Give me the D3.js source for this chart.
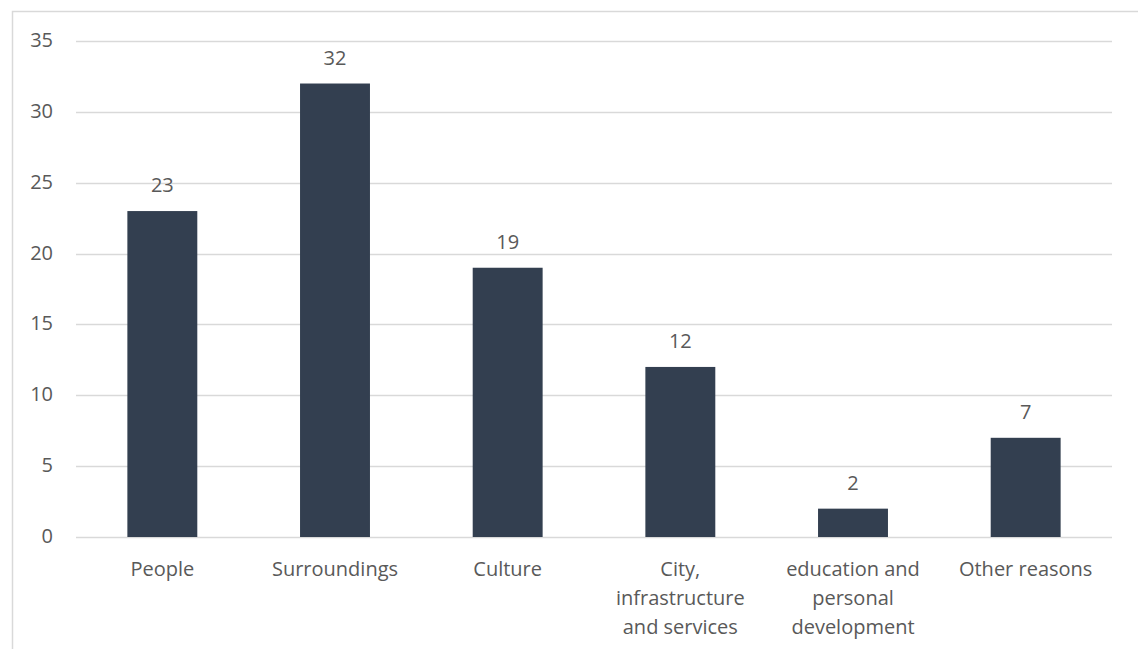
<!DOCTYPE html>
<html>
<head>
<meta charset="utf-8">
<script src="https://cdn.jsdelivr.net/npm/d3@7"></script>
<style>
  body { margin: 0; background: #fff; }
  text { font-family: "Open Sans", sans-serif; fill: #595959; }
</style>
</head>
<body>
<div id="chart"></div>
<script>
var width = 1138, height = 649;

var categories = ["People", "Surroundings", "Culture", "City, infrastructure and services", "education and personal development", "Other reasons"];
var catLines = [["People"], ["Surroundings"], ["Culture"], ["City,", "infrastructure", "and services"], ["education and", "personal", "development"], ["Other reasons"]];
var values = [23, 32, 19, 12, 2, 7];
var yTicks = [0, 5, 10, 15, 20, 25, 30, 35];

var margin = {left: 76, right: 26, top: 41, bottom: 112};

var svg = d3.select("#chart")
  .append("svg")
  .attr("width", width)
  .attr("height", height);

// chart frame
svg.append("rect")
  .attr("x", 12.5).attr("y", 11.5)
  .attr("width", 1140).attr("height", 660)
  .attr("fill", "none")
  .attr("stroke", "#d9d9d9")
  .attr("stroke-width", 1.5);

var x = d3.scaleBand()
  .domain(categories)
  .range([margin.left, width - margin.right])
  .paddingInner(0.595)
  .paddingOuter(0.2975);

var y = d3.scaleLinear()
  .domain([0, 35])
  .range([height - margin.bottom, margin.top]);

svg.selectAll(".grid")
  .data(yTicks)
  .enter().append("line")
  .attr("class", "grid")
  .attr("x1", margin.left).attr("x2", width - margin.right)
  .attr("y1", function(d) { return Math.round(y(d)) + 0.5; })
  .attr("y2", function(d) { return Math.round(y(d)) + 0.5; })
  .attr("stroke", "#d9d9d9")
  .attr("stroke-width", 1.3);

svg.selectAll(".ytick")
  .data(yTicks)
  .enter().append("text")
  .attr("class", "ytick")
  .attr("x", 53)
  .attr("y", function(d) { return y(d) + 6; })
  .attr("text-anchor", "end")
  .style("font-size", "20px")
  .text(function(d) { return d; });

svg.selectAll(".bar")
  .data(values)
  .enter().append("rect")
  .attr("class", "bar")
  .attr("x", function(d, i) { return x(categories[i]); })
  .attr("y", function(d) { return y(d); })
  .attr("width", x.bandwidth())
  .attr("height", function(d) { return y(0) - y(d); })
  .attr("fill", "#333f50");

svg.selectAll(".vlabel")
  .data(values)
  .enter().append("text")
  .attr("class", "vlabel")
  .attr("x", function(d, i) { return x(categories[i]) + x.bandwidth() / 2; })
  .attr("y", function(d) { return y(d) - 19; })
  .attr("text-anchor", "middle")
  .style("font-size", "20px")
  .text(function(d) { return d; });

var xl = svg.selectAll(".xlabel")
  .data(catLines)
  .enter().append("text")
  .attr("class", "xlabel")
  .attr("text-anchor", "middle")
  .attr("x", function(d, i) { return x(categories[i]) + x.bandwidth() / 2; })
  .attr("y", y(0) + 39)
  .style("font-size", "20px");

xl.selectAll("tspan")
  .data(function(d) { return d; })
  .enter().append("tspan")
  .attr("x", function() { return d3.select(this.parentNode).attr("x"); })
  .attr("dy", function(d, i) { return i === 0 ? 0 : 29; })
  .text(function(d) { return d; });
</script>
</body>
</html>
